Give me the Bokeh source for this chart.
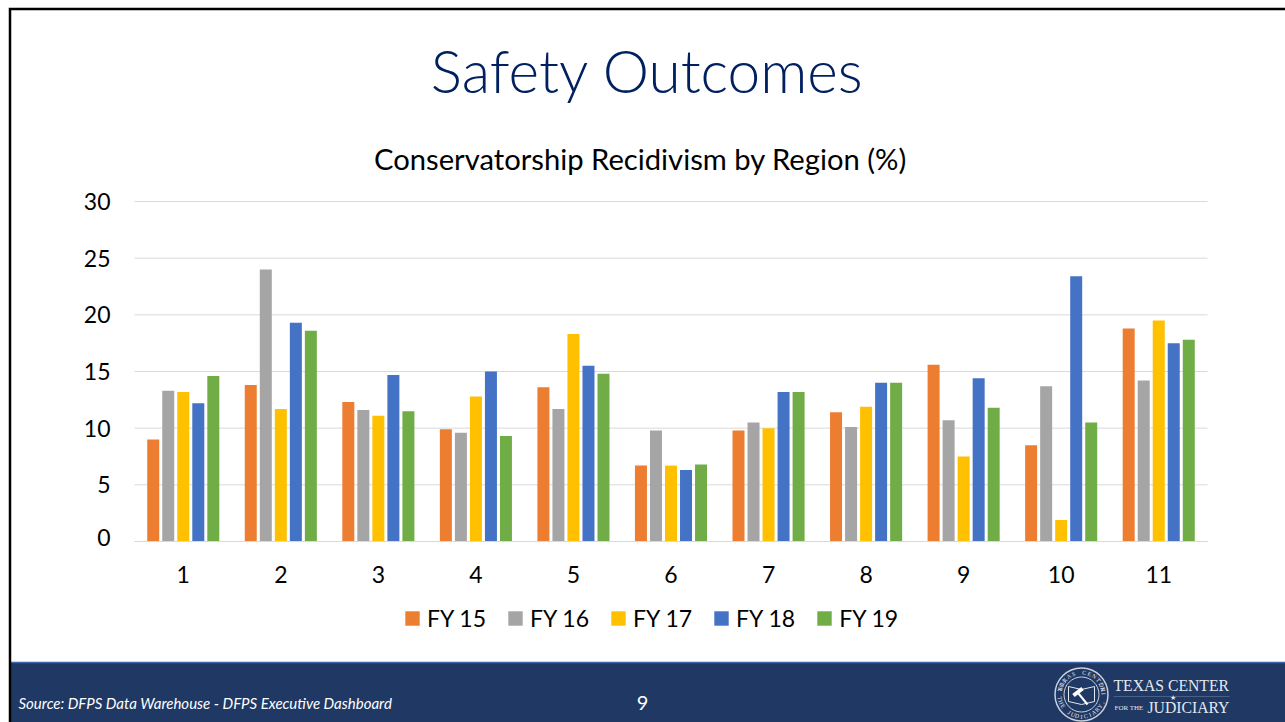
import math
from bokeh.plotting import figure
from bokeh.models import ColumnDataSource, Range1d, FixedTicker, Legend, LegendItem
from bokeh.core.properties import value
from bokeh.transform import dodge
from bokeh.embed import file_html
from bokeh.resources import INLINE

regions = [1, 2, 3, 4, 5, 6, 7, 8, 9, 10, 11]
fy15 = [9.0, 13.8, 12.3, 9.9, 13.6, 6.7, 9.8, 11.4, 15.6, 8.5, 18.8]
fy16 = [13.3, 24.0, 11.6, 9.6, 11.7, 9.8, 10.5, 10.1, 10.7, 13.7, 14.2]
fy17 = [13.2, 11.7, 11.1, 12.8, 18.3, 6.7, 10.0, 11.9, 7.5, 1.9, 19.5]
fy18 = [12.2, 19.3, 14.7, 15.0, 15.5, 6.3, 13.2, 14.0, 14.4, 23.4, 17.5]
fy19 = [14.6, 18.6, 11.5, 9.3, 14.8, 6.8, 13.2, 14.0, 11.8, 10.5, 17.8]
series_names = ["FY 15", "FY 16", "FY 17", "FY 18", "FY 19"]
series_colors = ["#ED7D31", "#A5A5A5", "#FFC000", "#4472C4", "#70AD47"]
y_ticks = [0, 5, 10, 15, 20, 25, 30]
title_text = "Safety Outcomes"
chart_title = "Conservatorship Recidivism by Region (%)"
source_note = "Source: DFPS Data Warehouse - DFPS Executive Dashboard"
page_number = "9"

W, H = 1285, 722
LEFT, RIGHT, TOP, BOTTOM = 134, 1207, 201, 541
UX = (RIGHT - LEFT) / 11
UY = (BOTTOM - TOP) / 30

def fx(px):  # page pixel -> data x
    return 0.5 + (px - LEFT) / UX

def fy(py):  # page pixel -> data y
    return (BOTTOM - py) / UY

# The frame fills the whole canvas, so the slide's furniture is not clipped by it;
# the value axes are pinned at x=0.5 and y=0 inside it.
p = figure(width=W, height=H, output_backend="svg", toolbar_location=None,
           x_range=Range1d(fx(0), fx(W)), y_range=Range1d(fy(H), fy(0)),
           min_border=0, outline_line_color=None,
           background_fill_color="white", border_fill_color="white")
p.xgrid.visible = False
p.ygrid.visible = False

# gridlines
p.segment(x0=[0.5] * len(y_ticks), x1=[11.5] * len(y_ticks), y0=y_ticks, y1=y_ticks,
          line_color="#D9D9D9", line_width=1, level="underlay")

src = ColumnDataSource(dict(region=regions, s0=fy15, s1=fy16, s2=fy17, s3=fy18, s4=fy19))
items = []
for i, (name, color) in enumerate(zip(series_names, series_colors)):
    r = p.vbar(x=dodge("region", (i - 2) * 0.154, range=p.x_range), top=f"s{i}", width=0.123, bottom=0,
               source=src, fill_color=color, line_color=None)
    items.append(LegendItem(label=name, renderers=[r]))

ax = p.xaxis[0]
ax.fixed_location = 0
ax.bounds = (0.5, 11.5)
ax.ticker = FixedTicker(ticks=regions)
ax.axis_line_color = "#D9D9D9"
ax.major_tick_line_color = None
ax.minor_tick_line_color = None
ax.major_label_text_font = "Lato"
ax.major_label_text_font_size = "23px"
ax.major_label_text_color = "#000000"
ax.major_label_standoff = 18

ay = p.yaxis[0]
ay.fixed_location = 0.5
ay.ticker = FixedTicker(ticks=y_ticks)
ay.axis_line_color = None
ay.major_tick_line_color = None
ay.minor_tick_line_color = None
ay.major_label_text_font = "Lato"
ay.major_label_text_font_size = "23px"
ay.major_label_text_color = "#000000"
ay.major_label_standoff = 18
ay.major_label_overrides = {0: ""}  # the reference's 0 sits a little above its gridline

def text(x, y, s, size, color="#000000", font="Lato", align="left", style="normal", angle=0):
    p.text(x=[fx(x)], y=[fy(y)], text=[s], text_font=value(font), text_font_size=value(f"{size}px"),
           text_color=color, text_align=align, text_baseline="middle", text_font_style=style,
           angle=angle, level="overlay")

text(110, 537, "0", 23, align="right")
text(647, 69, title_text, 58.5, color="#002060", font="Lato Light", align="center")
text(640, 158, chart_title, 29.2, align="center")

# footer band
p.quad(left=[fx(10)], right=[fx(W)], top=[fy(662)], bottom=[fy(H)],
       fill_color="#1F3864", line_color=None, level="overlay")
p.segment(x0=[fx(10)], x1=[fx(W)], y0=[fy(662)], y1=[fy(662)], line_color="#3F66A8", line_width=1.5, level="overlay")

# slide frame (left and top rules)
p.multi_line(xs=[[fx(9.5), fx(9.5), fx(W)]], ys=[[fy(H), fy(8.5), fy(8.5)]],
             line_color="#000000", line_width=2.5, level="overlay", line_join="miter")

text(18, 702, source_note, 15, color="#FFFFFF", style="italic")
text(642, 702, page_number, 20, color="#FFFFFF", align="center")

# logo
LOGO = "#E4E8EF"
CX, CY = 1081, 694
p.scatter(x=[fx(CX)], y=[fy(CY)], size=53, marker="circle", fill_alpha=0, line_color="#C9D0DC",
          line_width=1.5, level="overlay")
p.scatter(x=[fx(CX)], y=[fy(CY)], size=35, marker="circle", fill_alpha=0, line_color="#C9D0DC",
          line_width=1, level="overlay")
book_x = [CX - 13, CX - 13, CX, CX + 13, CX + 13, CX, CX - 13]
book_y = [CY - 8, CY + 7, CY + 10, CY + 7, CY - 8, CY - 5, CY - 8]
p.line(x=[fx(v) for v in book_x], y=[fy(v) for v in book_y], line_color=LOGO, line_width=1, level="overlay")
p.line(x=[fx(CX - 3), fx(CX + 6)], y=[fy(CY - 1), fy(CY + 10)], line_color="#FFFFFF", line_width=2, level="overlay")
p.line(x=[fx(CX - 8), fx(CX + 1)], y=[fy(CY + 1), fy(CY - 6)], line_color="#FFFFFF", line_width=4, level="overlay")
ring_top = "TEXAS CENTER"
for k, ch in enumerate(ring_top):
    a = math.radians(90 + (5.5 - k) * 14)
    text(CX + 22 * math.cos(a), CY - 22 * math.sin(a), ch, 6, color=LOGO, font="Liberation Serif",
         align="center", angle=a - math.pi / 2)
ring_bottom = "FOR THE JUDICIARY, INC."
for k, ch in enumerate(ring_bottom):
    a = math.radians(270 + (k - 11) * 11.5)
    text(CX + 22 * math.cos(a), CY - 22 * math.sin(a), ch, 6, color=LOGO, font="Liberation Serif",
         align="center", angle=a + math.pi / 2)

text(1113, 685, "TEXAS CENTER", 15.7, color=LOGO, font="Liberation Serif")
p.segment(x0=[fx(1113)], x1=[fx(1229)], y0=[fy(696)], y1=[fy(696)], line_color="#4A5F85", line_width=1, level="overlay")
text(1172, 696, "★", 7, color=LOGO, align="center")
text(1114, 707, "FOR THE", 7, color=LOGO, font="Liberation Serif")
text(1147, 707, "JUDICIARY", 15.7, color=LOGO, font="Liberation Serif")

leg = Legend(items=items, orientation="horizontal", location=(403, 90), spacing=20,
             glyph_width=18, glyph_height=18, label_text_font="Lato", label_text_font_size="23px",
             label_text_color="#000000", border_line_color=None, background_fill_alpha=0,
             margin=0, padding=0, label_standoff=6)
p.add_layout(leg, "center")

open("out.html", "w").write(file_html(p, INLINE))
